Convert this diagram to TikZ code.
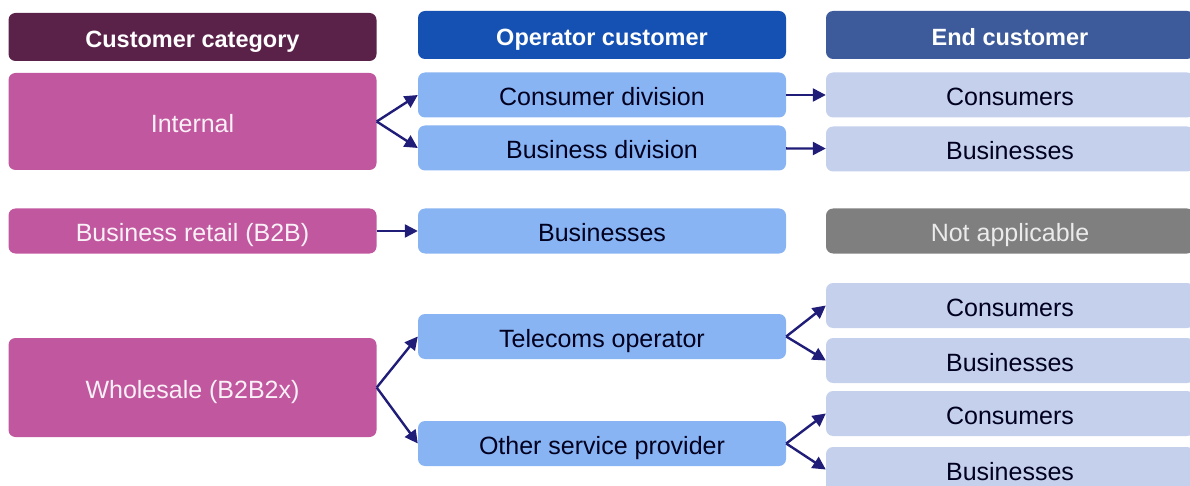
\documentclass[tikz,border=0pt]{standalone}
\usepackage{fontspec}
\setmainfont{Liberation Sans}
\usepackage{xcolor}
\usetikzlibrary{positioning, arrows.meta}

\definecolor{catdark}{HTML}{5B2249}
\definecolor{opdark}{HTML}{1551B3}
\definecolor{enddark}{HTML}{3D5B9B}
\definecolor{catpink}{HTML}{C1579F}
\definecolor{oplight}{HTML}{88B4F3}
\definecolor{endlight}{HTML}{C4D0EC}
\definecolor{nagrey}{HTML}{7F7F7F}
\definecolor{arrownavy}{HTML}{1F1D78}

\begin{document}
\begin{tikzpicture}[
    x = 1pt, y = -1pt,
    every node/.style = {
        rectangle, rounded corners=7pt, inner sep=0pt,
        minimum width=368pt, minimum height=45pt,
        text height=22pt, text depth=0pt,
        font=\fontsize{25}{29}\selectfont
    },
    head/.style = {fill=#1, text=white, minimum height=48pt,
        font=\fontsize{23.5}{28}\selectfont\bfseries},
    cat/.style = {fill=catpink, text=white!92!catpink},
    op/.style = {fill=oplight, text=black!88!blue},
    enduser/.style = {fill=endlight, text=black!88!blue},
    link/.style = {draw=arrownavy, line width=2.4pt,
        -{Triangle[length=13pt, width=13pt]}}
  ]
    \clip (0,0) rectangle (1190,486);
    \useasboundingbox (0,0) rectangle (1190,486);

    % header row
    \node[head=catdark] (hcat) at (192.5,37) {Customer category};
    \node[head=opdark]  (hop)  at (602,35)   {Operator customer};
    \node[head=enddark] (hend) at (1010,35)  {End customer};

    % internal
    \node[cat, minimum height=97pt] (internal) at (192.5,121.5) {Internal};
    \node[op] (consdiv) at (602,95)  {Consumer division};
    \node[op] (busdiv)  at (602,148) {Business division};
    \node[enduser] (cons1) at (1010,95)  {Consumers};
    \node[enduser] (bus1)  at (1010,149) {Businesses};

    % B2B
    \node[cat] (retail) at (192.5,231) {Business retail (B2B)};
    \node[op]  (bus2)   at (602,231)   {Businesses};
    \node[fill=nagrey, text=white!92!black] (na) at (1010,231) {Not applicable};

    % wholesale
    \node[cat, minimum height=99pt] (wholesale) at (192.5,387.5) {Wholesale (B2B2x)};
    \node[op] (telco) at (602,336.5) {Telecoms operator};
    \node[op] (osp)   at (602,443.5) {Other service provider};
    \node[enduser] (cons3) at (1010,305.5) {Consumers};
    \node[enduser] (bus3)  at (1010,360.5) {Businesses};
    \node[enduser] (cons4) at (1010,413.5) {Consumers};
    \node[enduser] (bus4)  at (1010,469.5) {Businesses};

    % arrows
    \draw[link] (internal.east) -- (consdiv.west);
    \draw[link] (internal.east) -- (busdiv.west);
    \draw[link] (consdiv) -- (cons1);
    \draw[link] (busdiv) -- (bus1);
    \draw[link] (retail) -- (bus2);
    \draw[link] (wholesale.east) -- (telco.west);
    \draw[link] (wholesale.east) -- (osp.west);
    \draw[link] (telco.east) -- (cons3.west);
    \draw[link] (telco.east) -- (bus3.west);
    \draw[link] (osp.east) -- (cons4.west);
    \draw[link] (osp.east) -- (bus4.west);
\end{tikzpicture}
\end{document}
